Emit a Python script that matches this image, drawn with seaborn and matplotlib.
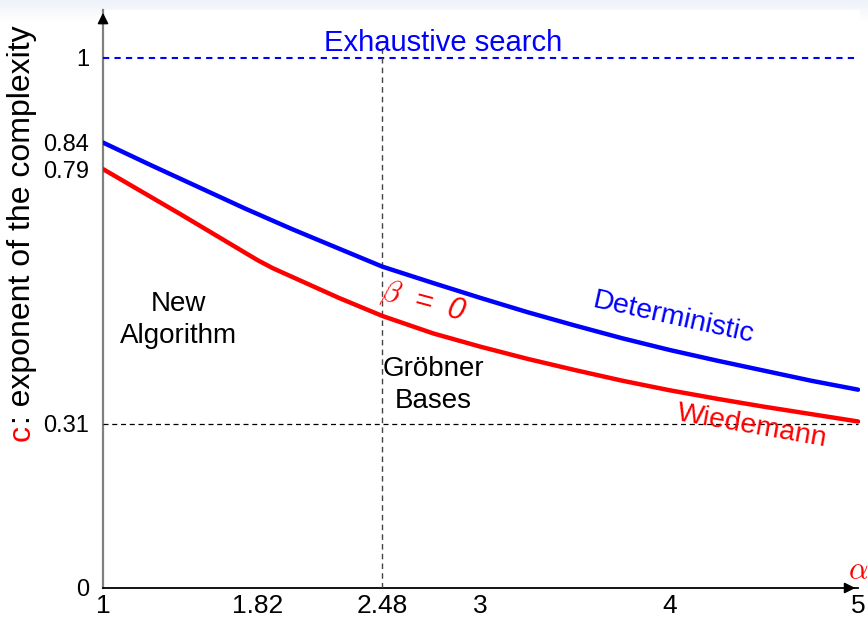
import numpy as np
import pandas as pd
import matplotlib
matplotlib.use("Agg")
import matplotlib.pyplot as plt
import seaborn as sns

# Complexity exponent c as a function of alpha
alpha_det = [1.0, 1.25, 1.5, 1.75, 2.0, 2.25, 2.48, 2.75, 3.0, 3.25, 3.5,
             3.75, 4.0, 4.25, 4.5, 4.75, 5.0]
c_det = [0.840, 0.798, 0.757, 0.716, 0.677, 0.640, 0.606, 0.575, 0.547, 0.520,
         0.495, 0.471, 0.449, 0.429, 0.410, 0.391, 0.374]

alpha_wied = [1.0, 1.41, 1.82, 1.9, 2.0, 2.1, 2.25, 2.48, 2.75, 3.0, 3.25, 3.5,
              3.75, 4.0, 4.25, 4.5, 4.75, 5.0]
c_wied = [0.790, 0.705, 0.618, 0.603, 0.587, 0.571, 0.547, 0.513, 0.480, 0.455,
          0.432, 0.411, 0.391, 0.373, 0.357, 0.342, 0.328, 0.314]

x_ticks = [1, 1.82, 2.48, 3, 4, 5]
x_ticklabels = ["1", "1.82", "2.48", "3", "4", "5"]
y_ticks = [0, 0.31, 0.79, 0.84, 1]
y_ticklabels = ["0", "0.31", "0.79", "0.84", "1"]

exhaustive_c = 1.0
groebner_alpha = 2.48
wied_limit = 0.31

sns.set_theme(style="white")
plt.rcParams["font.family"] = ["Liberation Sans", "DejaVu Sans"]
plt.rcParams["mathtext.fontset"] = "cm"
plt.rcParams["text.color"] = "black"
plt.rcParams["xtick.color"] = "black"
plt.rcParams["ytick.color"] = "black"

BLUE = "#0000ff"
RED = "#ff0000"

fig = plt.figure(figsize=(8.68, 6.21), dpi=100)

# light header band at the top of the slide
band = fig.add_axes([0, 1 - 22 / 621, 1, 22 / 621])
grad = np.linspace(0, 1, 50).reshape(-1, 1)
band.imshow(grad, aspect="auto", cmap=matplotlib.colors.LinearSegmentedColormap.from_list(
    "hdr", ["#eef2f9", "#ffffff"]), extent=[0, 1, 0, 1], origin="upper")
band.axis("off")

ax = fig.add_axes([103 / 868, 33 / 621, 757 / 868, 578 / 621])
ax.set_xlim(1, 5.01)
ax.set_ylim(0, 1.09)

df = pd.concat([
    pd.DataFrame({"alpha": alpha_det, "c": c_det, "method": "Deterministic"}),
    pd.DataFrame({"alpha": alpha_wied, "c": c_wied, "method": "Wiedemann"}),
])
sns.lineplot(data=df, x="alpha", y="c", hue="method", sort=False,
             palette={"Deterministic": BLUE, "Wiedemann": RED},
             linewidth=3.2, legend=False, ax=ax, zorder=5)
for ln in ax.get_lines():
    ln.set_solid_joinstyle("round")

# reference lines
ax.hlines(exhaustive_c, 1, 5, colors=BLUE, linestyles=(0, (3, 2.5)), linewidth=1.5, zorder=3)
ax.hlines(wied_limit, 1, 5, colors="black", linestyles=(0, (4, 3)), linewidth=0.9, zorder=3)
ax.vlines(groebner_alpha, 0, 1.025, colors="#444444", linestyles=(0, (4, 3)), linewidth=1.0, zorder=3)

# axes with arrows
for s in ["top", "right"]:
    ax.spines[s].set_visible(False)
ax.spines["left"].set_color("#808080")
ax.spines["left"].set_linewidth(1.6)
ax.spines["bottom"].set_color("black")
ax.spines["bottom"].set_linewidth(1.3)
ax.spines["bottom"].set_bounds(1, 5)
ax.annotate("", xy=(1, 1.09), xytext=(1, 1.06),
            arrowprops=dict(arrowstyle="-|>", color="black", lw=1.2, mutation_scale=16),
            annotation_clip=False)
ax.annotate("", xy=(5.0, 0), xytext=(4.96, 0),
            arrowprops=dict(arrowstyle="-|>", color="black", lw=1.2, mutation_scale=16),
            annotation_clip=False)

ax.set_xticks(x_ticks)
ax.set_xticklabels(x_ticklabels, fontsize=19, color="black")
ax.set_yticks(y_ticks)
ax.set_yticklabels(y_ticklabels, fontsize=17, color="black")
ax.tick_params(axis="x", direction="out", length=4, width=1, color="black", pad=0)
ax.tick_params(axis="y", direction="out", length=9, width=1, color="black", pad=1)
ax.set_xlabel("")
ax.set_ylabel("")

# annotations
ax.text(1.40, 0.506, "New\nAlgorithm", ha="center", va="center", fontsize=20,
        linespacing=1.3, color="black")
ax.text(2.75, 0.383, "Gröbner\nBases", ha="center", va="center", fontsize=20,
        linespacing=1.3, color="black")
ax.text(2.70, 0.540, r"$\beta$  =  0", ha="center", va="center", fontsize=22,
        color=RED, rotation=-15, style="italic")
ax.text(4.02, 0.510, "Deterministic", ha="center", va="center", fontsize=20.5,
        color=BLUE, rotation=-12.5)
ax.text(4.44, 0.305, "Wiedemann", ha="center", va="center", fontsize=20.5,
        color=RED, rotation=-10)
ax.text(2.80, 1.027, "Exhaustive search", ha="center", va="center", fontsize=21,
        color=BLUE)
ax.text(5.0, 0.032, r"$\alpha$", ha="center", va="center", fontsize=22, color=RED,
        clip_on=False)

# y-axis label: red "c" followed by the description
y0 = (621 - 441) / 621
t1 = fig.text(22 / 868, y0, "c", rotation=90, rotation_mode="anchor",
              ha="left", va="center", fontsize=23, color=RED)
fig.canvas.draw()
h = t1.get_window_extent().height
fig.text(22 / 868, y0 + (h + 1) / 621, ": exponent of the complexity", rotation=90,
         rotation_mode="anchor", ha="left", va="center", fontsize=23, color="black")

fig.savefig("out.png", dpi=100)
